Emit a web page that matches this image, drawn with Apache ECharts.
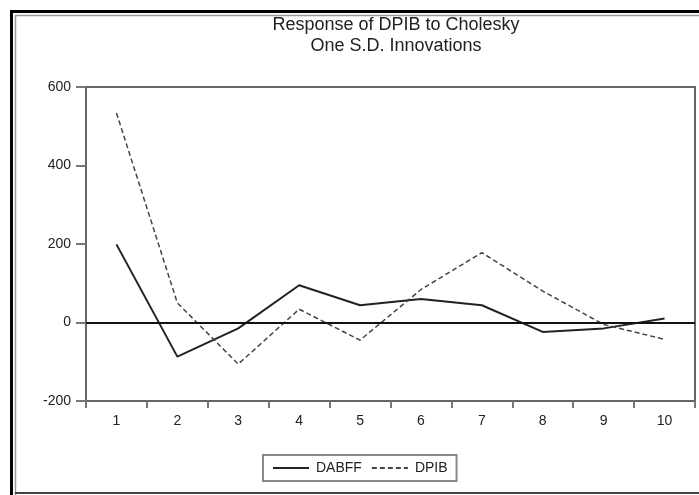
<!DOCTYPE html>
<html>
<head>
<meta charset="utf-8">
<script src="https://cdn.jsdelivr.net/npm/echarts@6/dist/echarts.min.js"></script>
<style>
  html, body { margin: 0; padding: 0; background: #fff; }
  #chart { width: 699px; height: 495px; }
</style>
</head>
<body>
<div id="chart"></div>
<script>
// periods after the shock
var periods = ['1', '2', '3', '4', '5', '6', '7', '8', '9', '10'];
// response values
var dabff = [199, -87, -15, 95, 44, 60, 44, -24, -15, 10];
var dpib = [534, 50, -106, 34, -45, 84, 178, 80, -5, -43];
var yTicks = { min: -200, max: 600, step: 200 };

var font = 'Liberation Sans, Arial, sans-serif';
var myChart = echarts.init(document.getElementById('chart'));

var option = {
    animation: false,
    backgroundColor: '#fff',
    title: {
        text: 'Response of DPIB to Cholesky\nOne S.D. Innovations',
        left: 391,
        top: 10,
        textAlign: 'center',
        textStyle: {
            fontFamily: font,
            fontSize: 18,
            fontWeight: 'normal',
            lineHeight: 21,
            color: '#222'
        }
    },
    legend: {
        left: 263,
        top: 455,
        padding: [6, 9],
        itemWidth: 36,
        itemHeight: 10,
        itemGap: 9,
        borderColor: '#888',
        borderWidth: 2,
        itemStyle: { opacity: 0 },
        textStyle: {
            fontFamily: font,
            fontSize: 14,
            color: '#222',
            padding: [0, 0, 0, 2]
        },
        data: ['DABFF', 'DPIB']
    },
    grid: {
        left: 86,
        top: 87,
        width: 609,
        height: 314,
        show: true,
        borderColor: '#666',
        borderWidth: 2
    },
    xAxis: {
        type: 'category',
        data: periods,
        boundaryGap: true,
        axisLine: { onZero: false, lineStyle: { color: '#666', width: 2 } },
        axisTick: { show: true, length: 7, lineStyle: { color: '#777', width: 2 } },
        axisLabel: { fontFamily: font, fontSize: 14, color: '#222', margin: 13 },
        splitLine: { show: false }
    },
    yAxis: {
        type: 'value',
        min: yTicks.min,
        max: yTicks.max,
        interval: yTicks.step,
        axisLine: { show: true, lineStyle: { color: '#666', width: 2 } },
        axisTick: { show: true, length: 10, lineStyle: { color: '#777', width: 2 } },
        axisLabel: { fontFamily: font, fontSize: 14, color: '#222', margin: 15 },
        splitLine: { show: false }
    },
    series: [
        {
            name: 'DABFF',
            type: 'line',
            data: dabff,
            symbol: 'none',
            itemStyle: { color: '#222' },
            lineStyle: { color: '#222', width: 2, type: 'solid' },
            markLine: {
                silent: true,
                symbol: 'none',
                label: { show: false },
                lineStyle: { color: '#111', width: 2, type: 'solid' },
                data: [{ yAxis: 0 }]
            }
        },
        {
            name: 'DPIB',
            type: 'line',
            data: dpib,
            symbol: 'none',
            itemStyle: { color: '#444' },
            lineStyle: { color: '#444', width: 1.5, type: [5, 3] }
        }
    ],
    graphic: [
        // outer frame: thick black + thin grey inner line
        {
            type: 'rect',
            shape: { x: 11.5, y: 11.5, width: 720, height: 520 },
            style: { fill: null, stroke: '#000', lineWidth: 3 },
            silent: true
        },
        {
            type: 'polyline',
            shape: { points: [[15.5, 500], [15.5, 15.5], [720, 15.5]] },
            style: { fill: null, stroke: '#999', lineWidth: 1.5 },
            silent: true
        },
        {
            type: 'line',
            shape: { x1: 15, y1: 493, x2: 720, y2: 493 },
            style: { stroke: '#444', lineWidth: 2 },
            silent: true
        }
    ]
};

myChart.setOption(option);
</script>
</body>
</html>
